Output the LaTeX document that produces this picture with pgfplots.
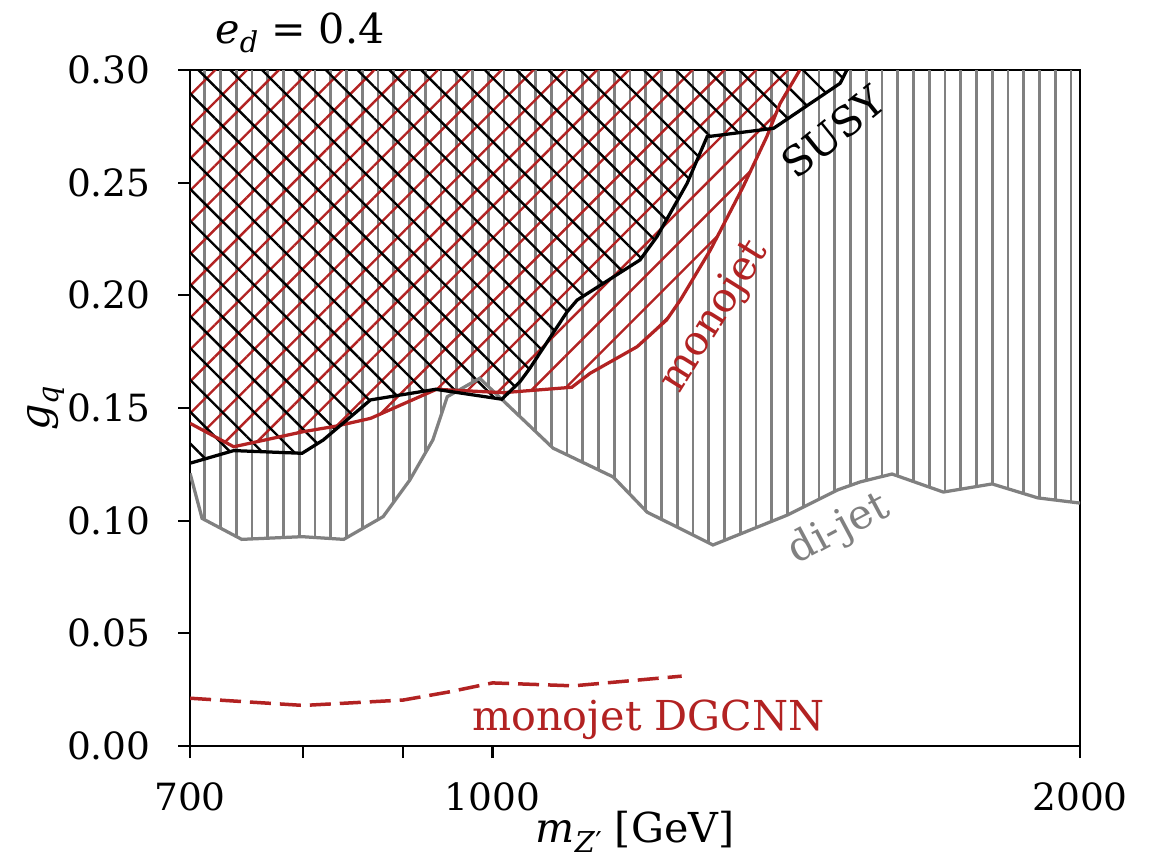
\documentclass[border=0pt]{standalone}
\usepackage{pgfplots}
\pgfplotsset{compat=1.18}
\usepackage{fontspec}
\setmainfont{DejaVu Serif}
\usetikzlibrary{patterns.meta}
\definecolor{fb}{RGB}{178,34,34}
\definecolor{gr}{RGB}{128,128,128}
\newcommand{\sub}[1]{\raisebox{-0.22em}{\fontsize{11.5}{12}\selectfont #1}}
\begin{document}
\fontsize{16.5}{20}\selectfont
\begin{tikzpicture}
\path[use as bounding box] (-76pt,-44.8pt) rectangle (387.6pt,298.4pt);
\begin{axis}[
  at={(0,0)}, anchor=south west,
  scale only axis, width=356pt, height=270.4pt,
  xmode=log, xmin=700, xmax=2000, ymin=0, ymax=0.3,
  xtick={700,1000,2000}, xticklabels={700,1000,2000},
  minor xtick={800,900},
  ytick={0,0.05,0.1,0.15,0.2,0.25,0.3},
  yticklabels={0.00,0.05,0.10,0.15,0.20,0.25,0.30},
  tick align=outside, tick pos=left,
  major tick length=4.8pt, minor tick length=4.8pt,
  every tick/.style={black, line width=0.9pt},
  axis line style={line width=0.9pt},
  ticklabel style={font=\fontsize{15}{18}\selectfont},
  yticklabel style={inner sep=0pt, anchor=east, xshift=-10.8pt},
  xticklabel style={inner sep=0pt, anchor=north, yshift=-9.6pt},
  xlabel={\textit{m}\sub{\textit{Z}′} [GeV]},
  ylabel={\textit{g}\sub{\textit{q}}},
  xlabel style={at={(axis description cs:0.5,-0.127)}, anchor=center, inner sep=0pt},
  ylabel style={at={(axis description cs:-0.162,0.5)}, anchor=center, inner sep=0pt},
]
% di-jet hatch
\addplot[draw=none, pattern={Lines[angle=90,distance=6.3pt,line width=1.05pt]}, pattern color=gr] coordinates {
(700,0.121)(710,0.101)(744,0.0917)(799,0.0929)(839,0.0917)(879,0.1018)(907,0.118)(932,0.1358)(948,0.155)(985,0.1632)(1074,0.1322)(1153,0.1194)(1200,0.1038)(1297,0.0892)(1416,0.1025)(1502,0.1136)(1543,0.1172)(1602,0.1207)(1702,0.1127)(1803,0.1163)(1903,0.1101)(2000,0.1078)(2000,0.3)(700,0.3)
} -- cycle;
% monojet hatch
\addplot[draw=none, pattern={Lines[angle=45,distance=9pt,line width=0.95pt]}, pattern color=fb] coordinates {
(700,0.1432)(737,0.1328)(800,0.1395)(832,0.142)(866,0.1454)(936,0.1583)(1013,0.1568)(1098,0.1592)(1122,0.1654)(1186,0.1772)(1228,0.1891)(1248,0.1979)(1293,0.2201)(1344,0.2482)(1382,0.2704)(1404,0.2852)(1437,0.3)(700,0.3)
} -- cycle;
% SUSY hatch
\addplot[draw=none, pattern={Lines[angle=-45,distance=9pt,line width=0.95pt]}, pattern color=black] coordinates {
(700,0.1255)(737,0.1311)(799,0.1299)(819,0.1358)(866,0.1536)(935,0.1583)(1011,0.1539)(1033,0.1617)(1045,0.1676)(1092,0.1927)(1105,0.1979)(1190,0.2157)(1214,0.226)(1258,0.2497)(1288,0.2704)(1393,0.2741)(1507,0.2941)(1519,0.3)(700,0.3)
} -- cycle;
% lines
\addplot[gr, line width=1.3pt] coordinates {
(700,0.121)(710,0.101)(744,0.0917)(799,0.0929)(839,0.0917)(879,0.1018)(907,0.118)(932,0.1358)(948,0.155)(985,0.1632)(1074,0.1322)(1153,0.1194)(1200,0.1038)(1297,0.0892)(1416,0.1025)(1502,0.1136)(1543,0.1172)(1602,0.1207)(1702,0.1127)(1803,0.1163)(1903,0.1101)(2000,0.1078)
};
\addplot[fb, line width=1.3pt] coordinates {
(700,0.1432)(737,0.1328)(800,0.1395)(832,0.142)(866,0.1454)(936,0.1583)(1013,0.1568)(1098,0.1592)(1122,0.1654)(1186,0.1772)(1228,0.1891)(1248,0.1979)(1293,0.2201)(1344,0.2482)(1382,0.2704)(1404,0.2852)(1437,0.3)
};
\addplot[black, line width=1.3pt] coordinates {
(700,0.1255)(737,0.1311)(799,0.1299)(819,0.1358)(866,0.1536)(935,0.1583)(1011,0.1539)(1033,0.1617)(1045,0.1676)(1092,0.1927)(1105,0.1979)(1190,0.2157)(1214,0.226)(1258,0.2497)(1288,0.2704)(1393,0.2741)(1507,0.2941)(1519,0.3)
};
\addplot[fb, line width=1.4pt, dash pattern=on 8.4pt off 3.6pt] coordinates {
(700,0.0212)(800,0.018)(900,0.0204)(950,0.024)(1000,0.028)(1100,0.0267)(1250,0.031)
};
\node[black, rotate=39] at (axis cs:1494,0.2725) {SUSY};
\node[fb, rotate=58] at (axis cs:1300,0.1905) {monojet};
\node[gr, rotate=28] at (axis cs:1505,0.0959) {di-jet};
\node[fb] at (axis cs:1202,0.0115) {monojet DGCNN};
\end{axis}
\node at (44pt,285.2pt) {\textit{e}\sub{\textit{d}} = 0.4};
\end{tikzpicture}
\end{document}
